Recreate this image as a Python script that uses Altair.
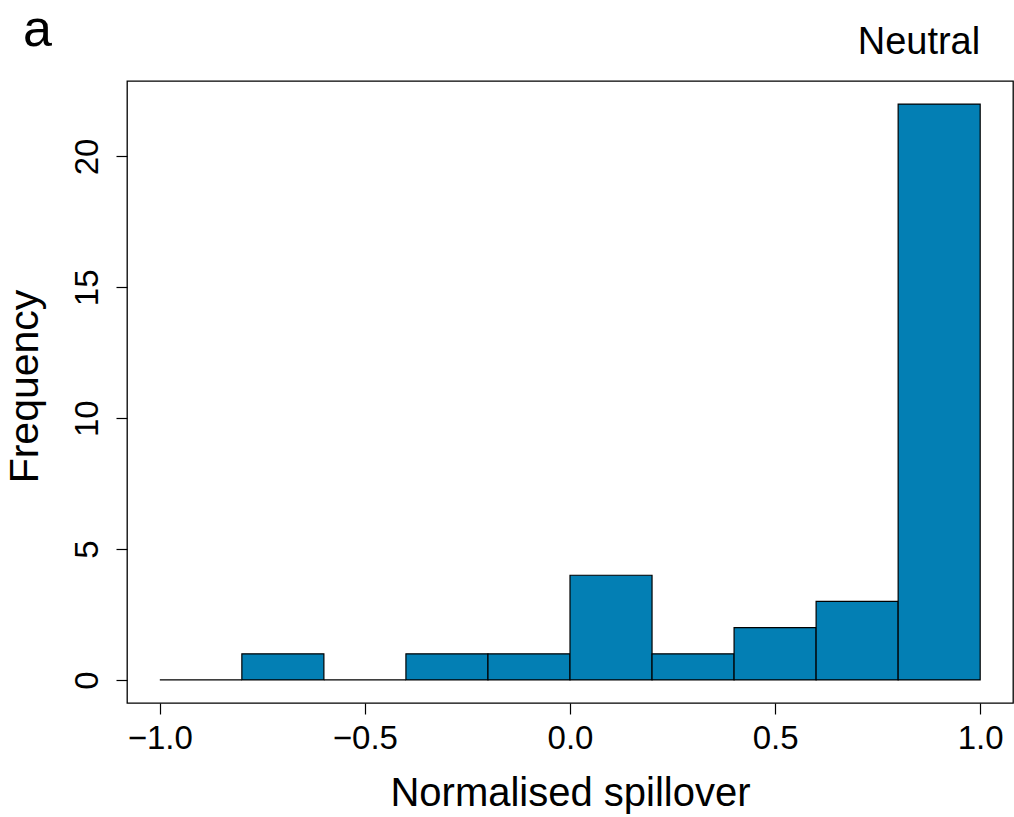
import altair as alt
import pandas as pd

# Histogram bins (width 0.2) and their counts
bin_start = [-1.0, -0.8, -0.6, -0.4, -0.2, 0.0, 0.2, 0.4, 0.6, 0.8]
bin_end = [-0.8, -0.6, -0.4, -0.2, 0.0, 0.2, 0.4, 0.6, 0.8, 1.0]
counts = [0, 1, 0, 1, 1, 4, 1, 2, 3, 22]

x_ticks = [-1.0, -0.5, 0.0, 0.5, 1.0]
y_ticks = [0, 5, 10, 15, 20]

panel_label = ["a"]
panel_title = ["Neutral"]

FONT = "Liberation Sans"
FILL = "#037FB4"

df = pd.DataFrame({"x0": bin_start, "x1": bin_end, "count": counts, "base": [0] * len(counts)})

x_scale = alt.Scale(domain=[-1.08, 1.08], nice=False, zero=False)
y_scale = alt.Scale(domain=[-0.88, 22.88], nice=False, zero=False)

bars = alt.Chart(df).mark_rect(
    fill=FILL, stroke="black", strokeWidth=1.2
).encode(
    x=alt.X("x0:Q", scale=x_scale,
            axis=alt.Axis(values=x_ticks, format=".1f", title="Normalised spillover",
                          grid=False, domain=False, tickSize=11, tickColor="black",
                          tickWidth=1.2, labelFont=FONT, labelFontSize=33,
                          labelColor="black", labelBaseline="alphabetic",
                          labelPadding=34, labelFlush=False,
                          titleFont=FONT, titleFontSize=40, titleFontWeight="normal",
                          titleColor="black", titleBaseline="alphabetic", titleY=102)),
    x2="x1:Q",
    y=alt.Y("base:Q", scale=y_scale,
            axis=alt.Axis(values=y_ticks, format="d", title="Frequency",
                          grid=False, domain=False, tickSize=11, tickColor="black",
                          tickWidth=1.2, labelFont=FONT, labelFontSize=33,
                          labelColor="black", labelAngle=-90, labelAlign="center",
                          labelBaseline="alphabetic", labelPadding=19, labelFlush=False,
                          titleFont=FONT, titleFontSize=41, titleFontWeight="normal",
                          titleColor="black", titleBaseline="alphabetic",
                          titleAngle=-90, titleX=-90, titleY=305)),
    y2="count:Q",
)

title_df = pd.DataFrame({"x": [1.0], "label": panel_title})
title_text = alt.Chart(title_df).mark_text(
    font=FONT, fontSize=38, align="right", baseline="alphabetic", color="black"
).encode(
    x=alt.X("x:Q", scale=x_scale),
    y=alt.value(-27),
    text="label:N",
)

letter_df = pd.DataFrame({"label": panel_label})
letter_text = alt.Chart(letter_df).mark_text(
    font=FONT, fontSize=52, align="left", baseline="alphabetic", color="black"
).encode(
    x=alt.value(-104),
    y=alt.value(-35),
    text="label:N",
)

chart = alt.layer(bars, title_text, letter_text).properties(
    width=886, height=622,
    autosize=alt.AutoSizeParams(type="none"),
    padding={"left": 127, "top": 81, "right": 1, "bottom": 114},
    background="white",
).configure_view(stroke="black", strokeWidth=1.3)

chart.save("out.html", embed_options={"renderer": "svg", "actions": False})
